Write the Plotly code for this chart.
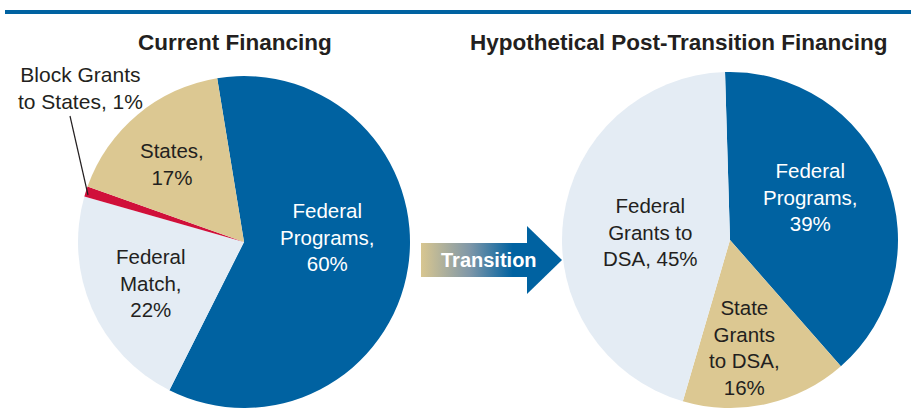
import plotly.graph_objects as go

# ---- data ----
current_labels = ["Federal Programs", "Federal Match", "Block Grants to States", "States"]
current_values = [60, 22, 1, 17]
post_labels = ["Federal Programs", "State Grants to DSA", "Federal Grants to DSA"]
post_values = [39, 16, 45]

BLUE = "#0062a1"
TAN = "#dcc892"
LIGHT = "#e4ecf4"
RED = "#d0103a"
TXT = "#231f20"
FONT = "Liberation Sans, Arial, sans-serif"

W, H = 911, 408

fig = go.Figure()

# helper: convert pixel box to paper domain
def dom(cx, cy, r):
    return dict(x=[(cx - r) / W, (cx + r) / W],
                y=[(H - cy - r) / H, (H - cy + r) / H])

fig.add_trace(go.Pie(
    labels=current_labels, values=current_values, sort=False,
    direction="clockwise", rotation=-9.3,
    marker=dict(colors=[BLUE, LIGHT, RED, TAN], line=dict(width=0)),
    textinfo="none", hoverinfo="label+percent", showlegend=False,
    domain=dom(244, 242, 166),
))
fig.add_trace(go.Pie(
    labels=post_labels, values=post_values, sort=False,
    direction="clockwise", rotation=-1.7,
    marker=dict(colors=[BLUE, TAN, LIGHT], line=dict(width=0)),
    textinfo="none", hoverinfo="label+percent", showlegend=False,
    domain=dom(730, 240, 168),
))

# arrow body with gradient
fig.add_trace(go.Scatter(
    x=[421, 529, 529, 421, 421], y=[243, 243, 277, 277, 243],
    fill="toself", mode="lines", line=dict(width=0),
    fillgradient=dict(type="horizontal",
                      colorscale=[[0, "#d8c690"], [0.45, "#7f97a8"], [0.85, BLUE], [1, BLUE]]),
    hoverinfo="skip", showlegend=False,
))
# arrow head
fig.add_trace(go.Scatter(
    x=[527, 562, 527, 527], y=[226, 260, 294, 226],
    fill="toself", mode="lines", line=dict(width=0, color=BLUE),
    fillcolor=BLUE, hoverinfo="skip", showlegend=False,
))

fig.update_xaxes(range=[0, W], visible=False, fixedrange=True)
fig.update_yaxes(range=[H, 0], visible=False, fixedrange=True)

ann = []
def a(text, x, y, color=TXT, size=20.5, bold=False):
    if bold:
        text = "<b>" + text.replace("<br>", "</b><br><b>") + "</b>"
    ann.append(dict(text=text, x=x, y=y, xref="x", yref="y", showarrow=False,
                    xanchor="center", yanchor="middle", align="center",
                    font=dict(family=FONT, size=size, color=color)))

a("Current Financing", 235, 42, size=22.5, bold=True)
a("Hypothetical Post-Transition Financing", 679, 42, size=22.5, bold=True)
a("Block Grants<br>to States, 1%", 80, 88, size=21)
a("States,<br>17%", 172, 164)
a("Federal<br>Programs,<br>60%", 327, 237, color="white")
a("Federal<br>Match,<br>22%", 151, 283)
a("Federal<br>Programs,<br>39%", 810, 197, color="white")
a("Federal<br>Grants to<br>DSA, 45%", 650, 232)
a("State<br>Grants<br>to DSA,<br>16%", 744, 347)
a("Transition", 489, 260, color="white", size=20, bold=True)

fig.update_layout(
    width=W, height=H,
    margin=dict(l=0, r=0, t=0, b=0),
    paper_bgcolor="white", plot_bgcolor="rgba(0,0,0,0)",
    annotations=ann,
    shapes=[
        dict(type="line", xref="x", yref="y", x0=5, x1=W, y0=12, y1=12,
             line=dict(color=BLUE, width=4)),
        dict(type="line", xref="x", yref="y", x0=70, y0=116, x1=88, y1=195,
             line=dict(color="#231f20", width=1.2)),
    ],
)

fig.write_html("out.html",
               config={"displayModeBar": False},
               post_script="document.body.style.margin='0';document.body.style.overflow='hidden';")
